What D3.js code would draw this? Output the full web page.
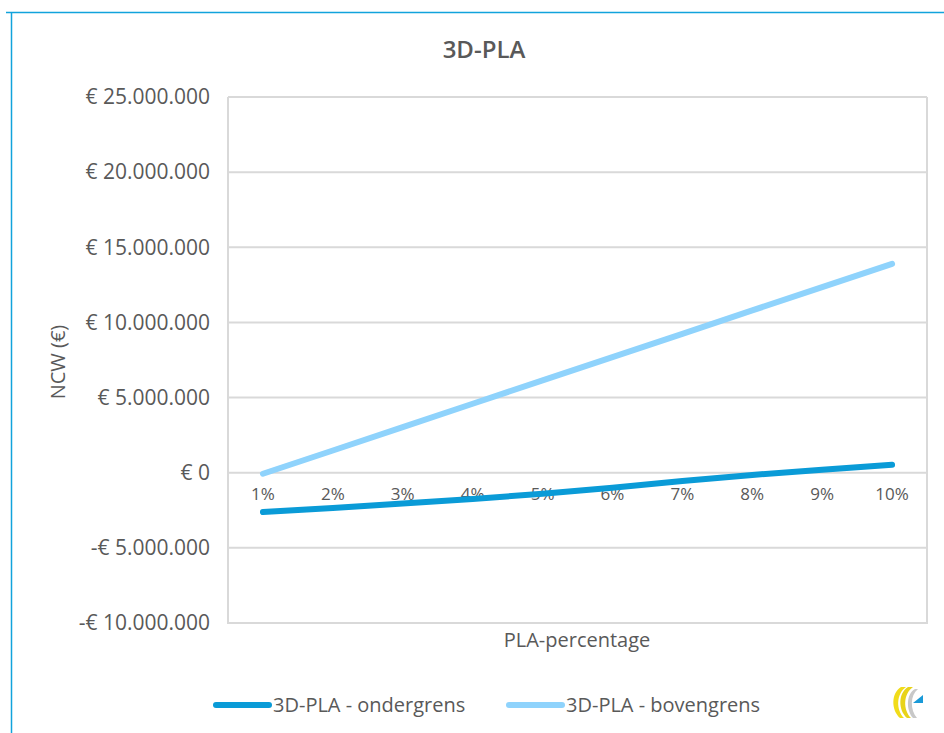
<!DOCTYPE html>
<html>
<head>
<meta charset="utf-8">
<script src="https://cdn.jsdelivr.net/npm/d3@7/dist/d3.min.js"></script>
<style>
  html, body { margin: 0; padding: 0; background: #fff; }
  svg { display: block; }
  text { font-family: "Open Sans", sans-serif; fill: #595959; }
</style>
</head>
<body>
<svg id="chart" width="944" height="733"></svg>
<script>
// PLA percentages on the horizontal axis
const categories = ["1%", "2%", "3%", "4%", "5%", "6%", "7%", "8%", "9%", "10%"];
// Net present value (NCW) per scenario, in euro
const ondergrens = [-2620000, -2350000, -2050000, -1750000, -1400000, -1000000, -550000, -150000, 200000, 530000];
const bovengrens = [-70000, 1480000, 3030000, 4590000, 6140000, 7690000, 9240000, 10800000, 12350000, 13900000];
const yTicks = [-10000000, -5000000, 0, 5000000, 10000000, 15000000, 20000000, 25000000];

const series = [
  { name: "3D-PLA - ondergrens", values: ondergrens, color: "#0a9bd7" },
  { name: "3D-PLA - bovengrens", values: bovengrens, color: "#8fd3fc" }
];

const svg = d3.select("#chart");
const plot = { left: 228, right: 927, top: 97, bottom: 623 };

// Outer chart frame (top and left edge visible)
svg.append("path")
  .attr("d", "M6,12.5 H944 M11.5,12 V733")
  .attr("fill", "none")
  .attr("stroke", "#11a3dc")
  .attr("stroke-width", 1.5);

const x = d3.scaleBand().domain(categories).range([plot.left, plot.right]).paddingInner(0).paddingOuter(0);
const y = d3.scaleLinear().domain([-10000000, 25000000]).range([plot.bottom, plot.top]);

const nl = d3.formatLocale({ decimal: ",", thousands: ".", grouping: [3], currency: ["€ ", ""], minus: "-" });
const fmt = nl.format("$,.0f");

// Horizontal gridlines
svg.append("g")
  .selectAll("line")
  .data(yTicks)
  .join("line")
  .attr("x1", plot.left).attr("x2", plot.right)
  .attr("y1", d => y(d)).attr("y2", d => y(d))
  .attr("stroke", "#d9d9d9").attr("stroke-width", 2);

// Plot area frame: left, right, bottom
svg.append("path")
  .attr("d", `M${plot.left},${plot.top} V${plot.bottom} H${plot.right} V${plot.top}`)
  .attr("fill", "none").attr("stroke", "#d9d9d9").attr("stroke-width", 2);

// Y axis labels
const yAxis = d3.axisLeft(y).tickValues(yTicks).tickFormat(fmt).tickSize(0).tickPadding(18);
const gy = svg.append("g").attr("transform", `translate(${plot.left},0)`).call(yAxis);
gy.select(".domain").remove();
gy.selectAll("text").style("font-size", "21px").attr("fill", "#595959").attr("font-family", "Open Sans");

// X axis labels sit just below the zero line
const xAxis = d3.axisBottom(x).tickSize(0).tickPadding(15);
const gx = svg.append("g").attr("transform", `translate(0,${y(0)})`).call(xAxis);
gx.select(".domain").remove();
gx.selectAll("text").style("font-size", "17px").attr("fill", "#595959").attr("font-family", "Open Sans");

// Series lines
const line = d3.line()
  .x((d, i) => x(categories[i]) + x.bandwidth() / 2)
  .y(d => y(d));

svg.append("g")
  .selectAll("path")
  .data(series)
  .join("path")
  .attr("d", d => line(d.values))
  .attr("fill", "none")
  .attr("stroke", d => d.color)
  .attr("stroke-width", 6)
  .attr("stroke-linecap", "round")
  .attr("stroke-linejoin", "round");

// Titles
svg.append("text").attr("x", 484).attr("y", 58).attr("text-anchor", "middle")
  .style("font-size", "24px").style("font-weight", "600").text("3D-PLA");
svg.append("text").attr("x", 577).attr("y", 647).attr("text-anchor", "middle")
  .style("font-size", "20px").text("PLA-percentage");
svg.append("text").attr("transform", "translate(65,362) rotate(-90)").attr("text-anchor", "middle")
  .style("font-size", "20px").text("NCW (€)");

// Legend
const legendX = [216, 509];
const lg = svg.append("g").selectAll("g").data(series).join("g")
  .attr("transform", (d, i) => `translate(${legendX[i]},705)`);
lg.append("line").attr("x1", 0).attr("x2", 53).attr("y1", 0).attr("y2", 0)
  .attr("stroke", d => d.color).attr("stroke-width", 6).attr("stroke-linecap", "round");
lg.append("text").attr("x", 57).attr("y", 7).style("font-size", "20px").text(d => d.name);

// Small logo mark in the corner
const logo = svg.append("g").attr("transform", "translate(891,686)");
logo.append("path").attr("d", "M10,1 C0,7 0,24 9,32 L13,32 C5,24 5,8 15,1 Z").attr("fill", "#f1dc1a");
logo.append("path").attr("d", "M17,1 C7,7 7,24 16,32 L20,32 C12,24 12,8 22,1 Z").attr("fill", "#e8d31a");
logo.append("path").attr("d", "M24,3 C15,8 15,24 22,32 L26,32 C19,24 19,9 27,3 Z").attr("fill", "#c8c8c8");
logo.append("path").attr("d", "M22,17 L32,9 L32,17 Z").attr("fill", "#1a9ad8");
</script>
</body>
</html>
